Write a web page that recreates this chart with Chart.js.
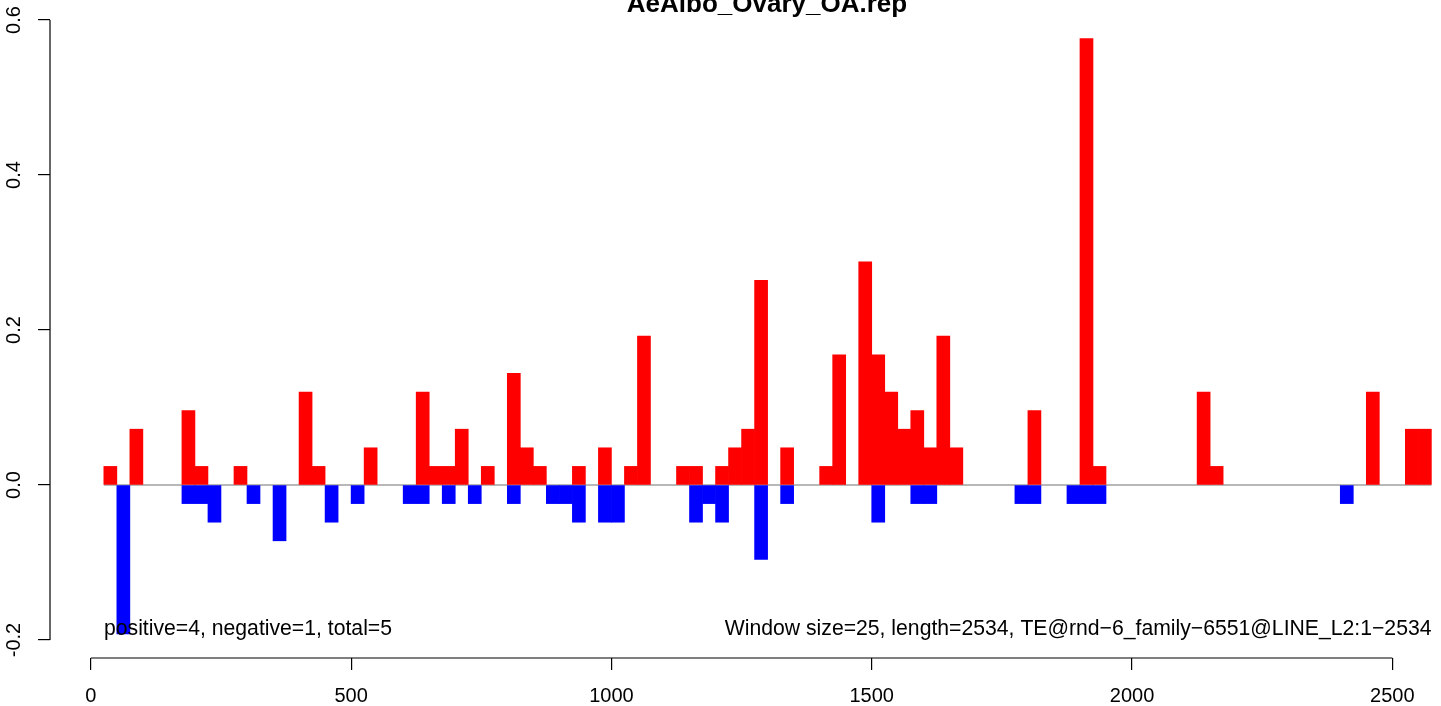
<!DOCTYPE html>
<html>
<head>
<meta charset="utf-8">
<title>AeAlbo_Ovary_OA.rep</title>
<script src="https://cdn.jsdelivr.net/npm/chart.js@4"></script>
<style>
  html, body { margin: 0; padding: 0; background: #fff; }
  canvas { display: block; }
</style>
</head>
<body>
<canvas id="grafico" width="1441" height="706"></canvas>
<script>
// window size of each bin
const windowSize = 25;

// start of every window along the element
const binStarts = [
  25, 50, 75, 100, 125, 150, 175, 200, 225, 250,
  275, 300, 325, 350, 375, 400, 425, 450, 475, 500,
  525, 550, 575, 600, 625, 650, 675, 700, 725, 750,
  775, 800, 825, 850, 875, 900, 925, 950, 975, 1000,
  1025, 1050, 1075, 1100, 1125, 1150, 1175, 1200, 1225, 1250,
  1275, 1300, 1325, 1350, 1375, 1400, 1425, 1450, 1475, 1500,
  1525, 1550, 1575, 1600, 1625, 1650, 1675, 1700, 1725, 1750,
  1775, 1800, 1825, 1850, 1875, 1900, 1925, 1950, 1975, 2000,
  2025, 2050, 2075, 2100, 2125, 2150, 2175, 2200, 2225, 2250,
  2275, 2300, 2325, 2350, 2375, 2400, 2425, 2450, 2475, 2500,
  2525, 2550
];

// positive strand coverage
const positivos = [
  0.024, 0, 0.072, 0, 0, 0, 0.096, 0.024, 0, 0,
  0.024, 0, 0, 0, 0, 0.12, 0.024, 0, 0, 0,
  0.048, 0, 0, 0, 0.12, 0.024, 0.024, 0.072, 0, 0.024,
  0, 0.144, 0.048, 0.024, 0, 0, 0.024, 0, 0.048, 0,
  0.024, 0.192, 0, 0, 0.024, 0.024, 0, 0.024, 0.048, 0.072,
  0.264, 0, 0.048, 0, 0, 0.024, 0.168, 0, 0.288, 0.168,
  0.12, 0.072, 0.096, 0.048, 0.192, 0.048, 0, 0, 0, 0,
  0, 0.096, 0, 0, 0, 0.576, 0.024, 0, 0, 0,
  0, 0, 0, 0, 0.12, 0.024, 0, 0, 0, 0,
  0, 0, 0, 0, 0, 0, 0, 0.12, 0, 0,
  0.072, 0.072
];

// negative strand coverage
const negativos = [
  0, -0.192, 0, 0, 0, 0, -0.024, -0.024, -0.048, 0,
  0, -0.024, 0, -0.072, 0, 0, 0, -0.048, 0, -0.024,
  0, 0, 0, -0.024, -0.024, 0, -0.024, 0, -0.024, 0,
  0, -0.024, 0, 0, -0.024, -0.024, -0.048, 0, -0.048, -0.048,
  0, 0, 0, 0, 0, -0.048, -0.024, -0.048, 0, 0,
  -0.096, 0, -0.024, 0, 0, 0, 0, 0, 0, -0.048,
  0, 0, -0.024, -0.024, 0, 0, 0, 0, 0, 0,
  -0.024, -0.024, 0, 0, -0.024, -0.024, -0.024, 0, 0, 0,
  0, 0, 0, 0, 0, 0, 0, 0, 0, 0,
  0, 0, 0, 0, 0, -0.024, 0, 0, 0, 0,
  0, 0
];

const xTicks = [0, 500, 1000, 1500, 2000, 2500];
const yTicks = [-0.2, 0, 0.2, 0.4, 0.6];
const yTickLabels = ["-0.2", "0.0", "0.2", "0.4", "0.6"];

const titulo = "AeAlbo_Ovary_OA.rep";
const notaIzq = "positive=4, negative=1, total=5";
const notaDer = "Window size=25, length=2534, TE@rnd\u22126_family\u22126551@LINE_L2:1\u22122534";

const fuente = '"Liberation Sans", Arial, Helvetica, sans-serif';

// empty windows become null so no sliver is drawn on the zero line
function puntos(valores) {
  return valores.map((v, i) => ({
    x: binStarts[i] + windowSize / 2,
    y: v === 0 ? null : v
  }));
}

// axis lines, rotated y labels, title and the two notes (R style)
const decoracion = {
  id: "decoracion",
  afterDraw(chart) {
    const ctx = chart.ctx;
    const xs = chart.scales.x;
    const ys = chart.scales.y;
    const area = chart.chartArea;

    ctx.save();
    ctx.strokeStyle = "#000";
    ctx.lineWidth = 1.2;

    // x axis line
    ctx.beginPath();
    ctx.moveTo(xs.getPixelForValue(xTicks[0]), area.bottom);
    ctx.lineTo(xs.getPixelForValue(xTicks[xTicks.length - 1]), area.bottom);
    ctx.stroke();

    // y axis line
    ctx.beginPath();
    ctx.moveTo(area.left, ys.getPixelForValue(yTicks[0]));
    ctx.lineTo(area.left, ys.getPixelForValue(yTicks[yTicks.length - 1]));
    ctx.stroke();

    // y labels, rotated like R
    ctx.fillStyle = "#000";
    ctx.font = "20px " + fuente;
    ctx.textAlign = "center";
    ctx.textBaseline = "alphabetic";
    yTicks.forEach((v, i) => {
      ctx.save();
      ctx.translate(20, ys.getPixelForValue(v));
      ctx.rotate(-Math.PI / 2);
      ctx.fillText(yTickLabels[i], 0, 0);
      ctx.restore();
    });

    // title
    ctx.font = "bold 26px " + fuente;
    ctx.textAlign = "center";
    ctx.fillText(titulo, 767, 12);

    // notes
    ctx.font = "21.2px " + fuente;
    ctx.textAlign = "left";
    ctx.fillText(notaIzq, 104, 634.5);
    ctx.textAlign = "right";
    ctx.fillText(notaDer, 1431.5, 634.5);

    ctx.restore();
  }
};

const ctx = document.getElementById("grafico").getContext("2d");
const grafico = new Chart(ctx, {
  data: {
    datasets: [
      {
        type: "bar",
        label: "positive",
        data: puntos(positivos),
        backgroundColor: "#FF0000",
        borderWidth: 0,
        barPercentage: 1,
        categoryPercentage: 1,
        grouped: false,
        order: 1
      },
      {
        type: "bar",
        label: "negative",
        data: puntos(negativos),
        backgroundColor: "#0000FF",
        borderWidth: 0,
        barPercentage: 1,
        categoryPercentage: 1,
        grouped: false,
        order: 2
      },
      {
        type: "line",
        label: "zero",
        data: [
          { x: binStarts[0], y: 0 },
          { x: binStarts[binStarts.length - 1] + windowSize, y: 0 }
        ],
        borderColor: "#a0a0a0",
        borderWidth: 1.4,
        pointRadius: 0,
        order: 3
      }
    ]
  },
  options: {
    responsive: false,
    animation: false,
    devicePixelRatio: 1,
    layout: { padding: { top: 14, right: 8, left: 0, bottom: 0 } },
    plugins: {
      legend: { display: false },
      tooltip: { enabled: false },
      title: { display: false }
    },
    scales: {
      x: {
        type: "linear",
        position: "bottom",
        offset: false,
        min: -78.4,
        max: 2578.1,
        afterBuildTicks: (scale) => {
          scale.ticks = xTicks.map((v) => ({ value: v }));
        },
        afterFit: (scale) => {
          scale.height = 48;
        },
        ticks: {
          color: "#000",
          font: { family: fuente, size: 20 },
          padding: 14,
          maxRotation: 0,
          autoSkip: false,
          callback: (v) => String(v)
        },
        grid: {
          offset: false,
          drawOnChartArea: false,
          drawTicks: true,
          tickLength: 12,
          color: "#000",
          lineWidth: 1.2
        },
        border: { display: false }
      },
      y: {
        type: "linear",
        position: "left",
        min: -0.22323,
        max: 0.60774,
        afterBuildTicks: (scale) => {
          scale.ticks = yTicks.map((v) => ({ value: v }));
        },
        afterFit: (scale) => {
          scale.width = 50;
        },
        ticks: { display: false },
        grid: {
          drawOnChartArea: false,
          drawTicks: true,
          tickLength: 12,
          color: "#000",
          lineWidth: 1.2
        },
        border: { display: false }
      }
    }
  },
  plugins: [decoracion]
});
</script>
</body>
</html>
